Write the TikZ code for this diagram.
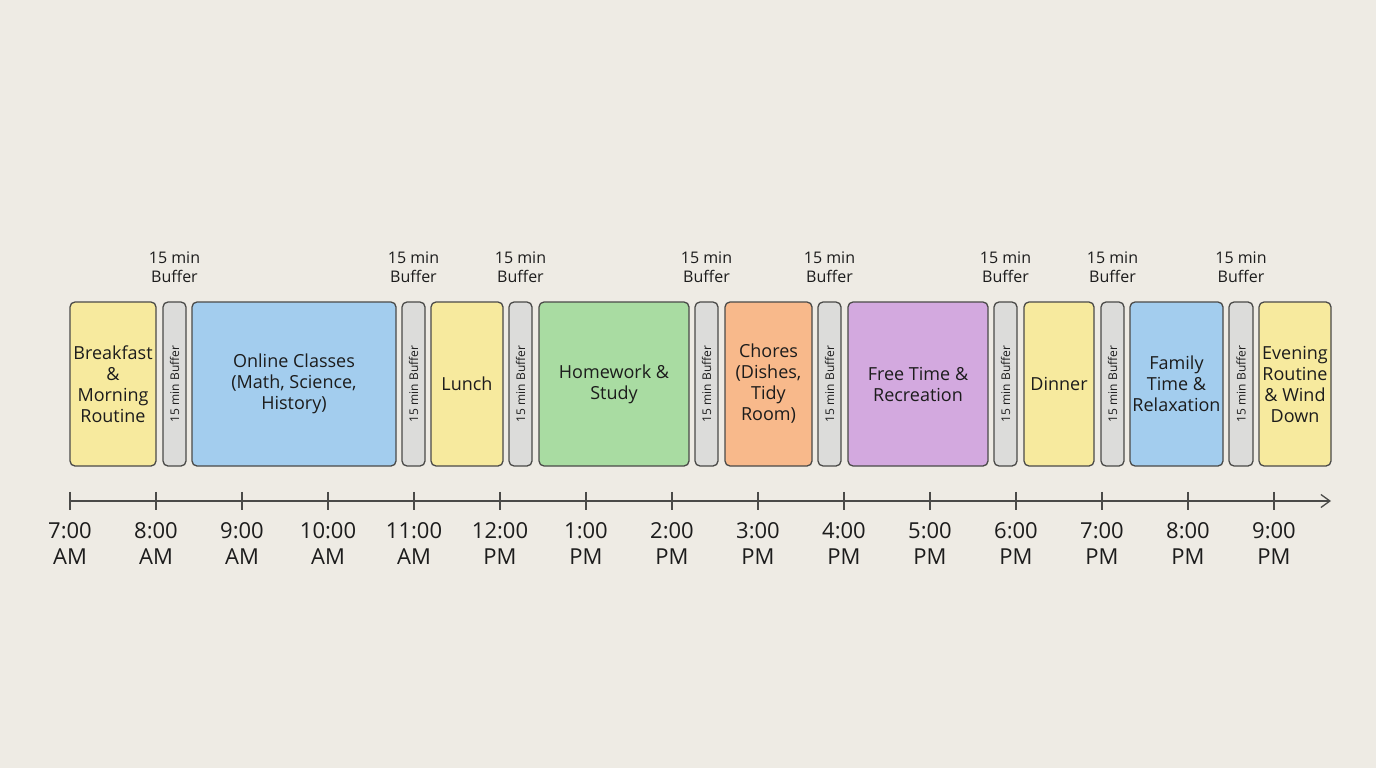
\documentclass[tikz,border=0pt]{standalone}
\usepackage{fontspec}
\setmainfont{Open Sans}
\usetikzlibrary{positioning, arrows.meta}

\definecolor{paper}{HTML}{EEEBE4}
\definecolor{edge}{HTML}{4A4A48}
\definecolor{ink}{HTML}{1C1C1C}
\definecolor{sun}{HTML}{F7EA9E}
\definecolor{sky}{HTML}{A3CDEE}
\definecolor{leaf}{HTML}{A9DCA2}
\definecolor{peach}{HTML}{F8B98B}
\definecolor{lilac}{HTML}{D3A9DF}
\definecolor{grey}{HTML}{DCDCDA}

\begin{document}
\begin{tikzpicture}[
        x=1pt, y=-1pt,
        block/.style={rectangle, draw=edge, rounded corners=5pt, line width=1.3pt, minimum height=164pt, inner sep=0pt, align=center, text=ink, font=\fontsize{18}{21}\selectfont},
        buffer/.style={block, fill=grey, minimum width=23pt, font=\fontsize{12}{14}\selectfont},
        note/.style={align=center, inner sep=0pt, text=ink, font=\fontsize{16}{19.5}\selectfont},
        tick/.style={inner sep=0pt, minimum width=0pt, minimum height=18pt},
        time/.style={align=center, inner sep=0pt, text=ink, font=\fontsize{22}{26}\selectfont},
        tickline/.style={line width=1.3pt, edge},
        axis/.style={-{Straight Barb[length=9pt, width=13pt]}, line width=1.3pt, edge}
    ]
        \fill[paper] (0,0) rectangle (1376,768);
        \useasboundingbox (0,0) rectangle (1376,768);

        % Morning
        \node[block, fill=sun, minimum width=86pt] (breakfast) at (113,384) {Breakfast\\\&\\Morning\\Routine};
        \node[buffer] (b1) at (174.5,384) {\rotatebox{90}{15 min Buffer}};
        \node[block, fill=sky, minimum width=204pt] (classes) at (294,384) {Online Classes\\(Math, Science,\\History)};
        \node[buffer] (b2) at (413.5,384) {\rotatebox{90}{15 min Buffer}};
        \node[block, fill=sun, minimum width=72pt] (lunch) at (467,384) {Lunch};
        \node[buffer] (b3) at (520.5,384) {\rotatebox{90}{15 min Buffer}};

        % Afternoon
        \node[block, fill=leaf, minimum width=150pt] (homework) at (614,384) {Homework \&\\Study};
        \node[buffer] (b4) at (706.5,384) {\rotatebox{90}{15 min Buffer}};
        \node[block, fill=peach, minimum width=87pt] (chores) at (768.5,384) {Chores\\(Dishes,\\Tidy\\Room)};
        \node[buffer] (b5) at (829.5,384) {\rotatebox{90}{15 min Buffer}};
        \node[block, fill=lilac, minimum width=140pt] (free) at (918,384) {Free Time \&\\Recreation};
        \node[buffer] (b6) at (1005.5,384) {\rotatebox{90}{15 min Buffer}};

        % Evening
        \node[block, fill=sun, minimum width=70pt] (dinner) at (1059,384) {Dinner};
        \node[buffer] (b7) at (1112.5,384) {\rotatebox{90}{15 min Buffer}};
        \node[block, fill=sky, minimum width=93pt] (family) at (1176.5,384) {Family\\Time \&\\Relaxation};
        \node[buffer, minimum width=24pt] (b8) at (1241,384) {\rotatebox{90}{15 min Buffer}};
        \node[block, fill=sun, minimum width=72pt] (evening) at (1295,384) {Evening\\Routine\\\& Wind\\Down};

        % Buffer notes
        \node[note, above=18pt of b1] (n1) {15 min\\Buffer};
        \node[note, above=18pt of b2] (n2) {15 min\\Buffer};
        \node[note, above=18pt of b3] (n3) {15 min\\Buffer};
        \node[note, above=18pt of b4] (n4) {15 min\\Buffer};
        \node[note, above=18pt of b5] (n5) {15 min\\Buffer};
        \node[note, above=18pt of b6] (n6) {15 min\\Buffer};
        \node[note, above=18pt of b7] (n7) {15 min\\Buffer};
        \node[note, above=18pt of b8] (n8) {15 min\\Buffer};

        % Time axis
        \node[tick] (t7) at (70,501) {};
        \node[tick] (t8) at (156,501) {};
        \node[tick] (t9) at (242,501) {};
        \node[tick] (t10) at (328,501) {};
        \node[tick] (t11) at (414,501) {};
        \node[tick] (t12) at (500,501) {};
        \node[tick] (t13) at (586,501) {};
        \node[tick] (t14) at (672,501) {};
        \node[tick] (t15) at (758,501) {};
        \node[tick] (t16) at (844,501) {};
        \node[tick] (t17) at (930,501) {};
        \node[tick] (t18) at (1016,501) {};
        \node[tick] (t19) at (1102,501) {};
        \node[tick] (t20) at (1188,501) {};
        \node[tick] (t21) at (1274,501) {};
        \coordinate (axisend) at (1331,501);

        \draw[axis] (t7.center) -- (axisend);
        \draw[tickline] (t7.north) -- (t7.south);
        \draw[tickline] (t8.north) -- (t8.south);
        \draw[tickline] (t9.north) -- (t9.south);
        \draw[tickline] (t10.north) -- (t10.south);
        \draw[tickline] (t11.north) -- (t11.south);
        \draw[tickline] (t12.north) -- (t12.south);
        \draw[tickline] (t13.north) -- (t13.south);
        \draw[tickline] (t14.north) -- (t14.south);
        \draw[tickline] (t15.north) -- (t15.south);
        \draw[tickline] (t16.north) -- (t16.south);
        \draw[tickline] (t17.north) -- (t17.south);
        \draw[tickline] (t18.north) -- (t18.south);
        \draw[tickline] (t19.north) -- (t19.south);
        \draw[tickline] (t20.north) -- (t20.south);
        \draw[tickline] (t21.north) -- (t21.south);

        % Time labels
        \node[time, below=12pt of t7] (l7) {7:00\\AM};
        \node[time, below=12pt of t8] (l8) {8:00\\AM};
        \node[time, below=12pt of t9] (l9) {9:00\\AM};
        \node[time, below=12pt of t10] (l10) {10:00\\AM};
        \node[time, below=12pt of t11] (l11) {11:00\\AM};
        \node[time, below=12pt of t12] (l12) {12:00\\PM};
        \node[time, below=12pt of t13] (l13) {1:00\\PM};
        \node[time, below=12pt of t14] (l14) {2:00\\PM};
        \node[time, below=12pt of t15] (l15) {3:00\\PM};
        \node[time, below=12pt of t16] (l16) {4:00\\PM};
        \node[time, below=12pt of t17] (l17) {5:00\\PM};
        \node[time, below=12pt of t18] (l18) {6:00\\PM};
        \node[time, below=12pt of t19] (l19) {7:00\\PM};
        \node[time, below=12pt of t20] (l20) {8:00\\PM};
        \node[time, below=12pt of t21] (l21) {9:00\\PM};
    \end{tikzpicture}
\end{document}
